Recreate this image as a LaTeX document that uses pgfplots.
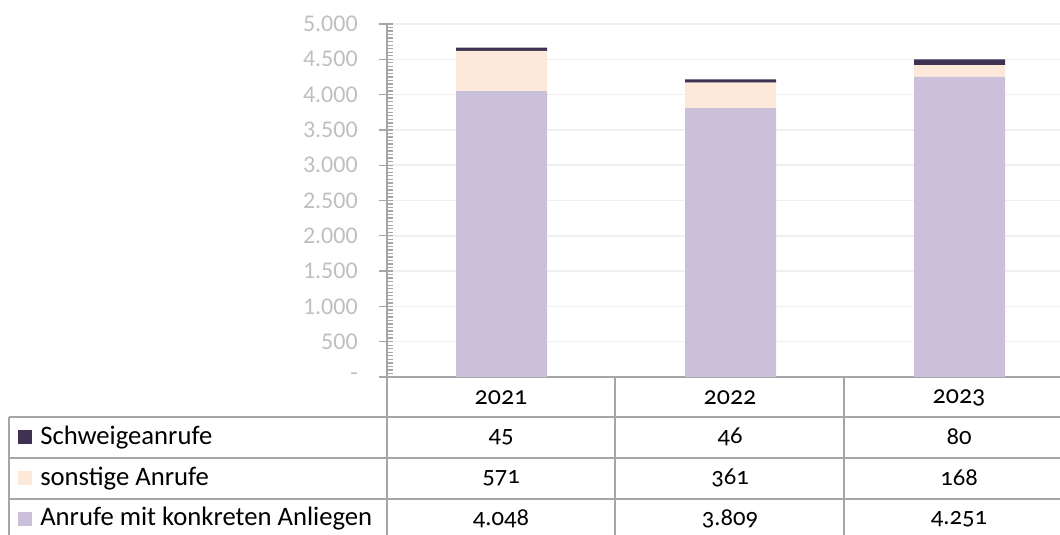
\documentclass[border=0pt]{standalone}
\usepackage{fontspec}
\setmainfont{Carlito}
\newfontfamily\numfont{Carlito}[Numbers=OldStyle]
\usepackage{pgfplots}
\pgfplotsset{compat=1.18}
\definecolor{konkret}{HTML}{CAC0DA}
\definecolor{sonst}{HTML}{FDE9D9}
\definecolor{schweig}{HTML}{3F3151}
\definecolor{axgray}{HTML}{A6A6A6}
\definecolor{gridgray}{HTML}{F0F0F0}
\definecolor{labgray}{HTML}{BFBFBF}

\begin{document}
\begin{tikzpicture}
\begin{axis}[at={(290.25pt,118.5pt)},anchor=south west,
  scale only axis,width=515.25pt,height=264.75pt,
  ybar stacked,bar width=68.25pt,
  xmin=-0.5,xmax=2.5,ymin=0,ymax=5000,
  xtick=\empty,
  axis x line*=bottom,axis y line*=left,
  axis line style={axgray,line width=1.1pt,-},
  ytick={0,500,...,5000},
  yticklabels={-,500,1.000,1.500,2.000,2.500,3.000,3.500,4.000,4.500,5.000},
  minor y tick num=9,
  tick align=inside,major tick length=4.5pt,minor tick length=4.5pt,
  tick style={axgray,line width=1pt},
  extra y ticks={0,500,...,5000},extra y tick labels={},
  extra y tick style={tick align=outside,major tick length=6pt,grid=none},
  ymajorgrids,major grid style={gridgray,line width=1.1pt},
  yticklabel style={font=\fontsize{18}{20}\selectfont,text=labgray,anchor=east,inner sep=0pt,xshift=-21.75pt},
  every axis plot/.append style={draw=none}]
\addplot[fill=konkret] coordinates {(0,4048)(1,3809)(2,4251)};
\addplot[fill=sonst] coordinates {(0,571)(1,361)(2,168)};
\addplot[fill=schweig] coordinates {(0,45)(1,46)(2,80)};
\end{axis}
% data table
\begin{scope}[x=0.75pt,y=0.75pt]
\begin{scope}[axgray,line width=1.1pt]
\draw (9,118) -- (1074,118);
\draw (9,77) -- (1074,77);
\draw (9,36) -- (1074,36);
\draw (9,118) -- (9,0);
\draw (387,158) -- (387,0);
\draw (615,158) -- (615,0);
\draw (844,158) -- (844,0);
\end{scope}
\foreach \x/\t in {501/2021,730/2022,959/2023}
  \node[font=\numfont\fontsize{19.5}{22}\selectfont] at (\x,137) {\t};
\foreach \x/\a/\b/\c in {501/45/571/4.048,730/46/361/3.809,959/80/168/4.251}{
  \node[font=\numfont\fontsize{18.5}{20}\selectfont] at (\x,98) {\a};
  \node[font=\numfont\fontsize{18.5}{20}\selectfont] at (\x,57) {\b};
  \node[font=\numfont\fontsize{18.5}{20}\selectfont] at (\x,16) {\c};
}
\foreach \y/\c/\t in {97.5/schweig/Schweigeanrufe,56.5/sonst/sonstige Anrufe,16/konkret/Anrufe mit konkreten Anliegen}{
  \fill[\c] (18,\y-7) rectangle (32,\y+7);
  \node[anchor=west,inner sep=0pt,font=\fontsize{20}{22}\selectfont] at (40,\y) {\t};
}
\end{scope}
\pgfresetboundingbox
\useasboundingbox (0,0) rectangle (795pt,401.25pt);
\end{tikzpicture}
\end{document}
